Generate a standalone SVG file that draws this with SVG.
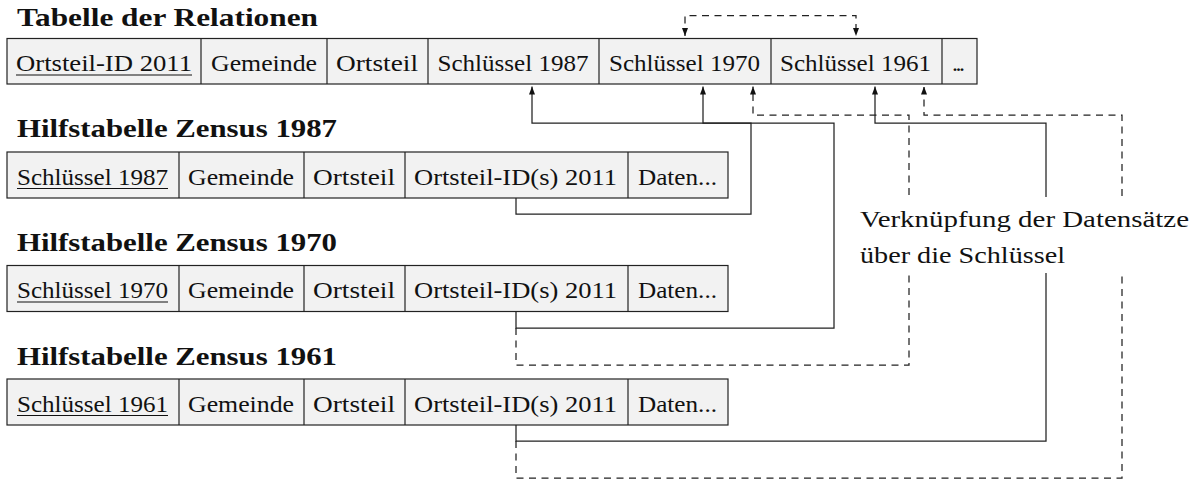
<svg xmlns="http://www.w3.org/2000/svg" width="1195" height="480" viewBox="0 0 1195 480">
<style>
.cell{fill:#f2f2f2;stroke:#222;stroke-width:1.2}
.div{stroke:#222;stroke-width:1.2}
.t{font-family:'Liberation Serif',serif;font-size:24px;fill:#111}
.h{font-family:'Liberation Serif',serif;font-size:26px;font-weight:bold;fill:#111}
.ul{stroke:#111;stroke-width:1.1}
.c{fill:none;stroke:#222;stroke-width:1.25}
.d{fill:none;stroke:#222;stroke-width:1.25;stroke-dasharray:7 5.5}
</style>
<defs>
<marker id="ah" viewBox="0 0 8 6" refX="8" refY="3" markerWidth="8" markerHeight="6" markerUnits="userSpaceOnUse" orient="auto-start-reverse">
<path d="M0,0 L8,3 L0,6 z" fill="#111"/>
</marker>
</defs>
<rect width="1195" height="480" fill="#fff"/>

<g id="relationen">
<text class="h" x="17" y="26" textLength="301" lengthAdjust="spacingAndGlyphs">Tabelle der Relationen</text>
<rect class="cell" x="7" y="38.5" width="970" height="45.5"/>
<line class="div" x1="201" y1="38.5" x2="201" y2="84"/>
<line class="div" x1="327" y1="38.5" x2="327" y2="84"/>
<line class="div" x1="428" y1="38.5" x2="428" y2="84"/>
<line class="div" x1="599" y1="38.5" x2="599" y2="84"/>
<line class="div" x1="771" y1="38.5" x2="771" y2="84"/>
<line class="div" x1="942" y1="38.5" x2="942" y2="84"/>
<text class="t" x="16" y="71" textLength="176" lengthAdjust="spacingAndGlyphs">Ortsteil-ID 2011</text>
<line class="ul" x1="16" y1="75" x2="192" y2="75"/>
<text class="t" x="211" y="71" textLength="106" lengthAdjust="spacingAndGlyphs">Gemeinde</text>
<text class="t" x="336" y="71" textLength="82" lengthAdjust="spacingAndGlyphs">Ortsteil</text>
<text class="t" x="437.5" y="71" textLength="151" lengthAdjust="spacingAndGlyphs">Schlüssel 1987</text>
<text class="t" x="609" y="71" textLength="151" lengthAdjust="spacingAndGlyphs">Schlüssel 1970</text>
<text class="t" x="780" y="71" textLength="151" lengthAdjust="spacingAndGlyphs">Schlüssel 1961</text>
<text class="t" x="952" y="71" textLength="13" lengthAdjust="spacing">...</text>
</g>

<g id="zensus1987">
<text class="h" x="17" y="137" textLength="320" lengthAdjust="spacingAndGlyphs">Hilfstabelle Zensus 1987</text>
<rect class="cell" x="7" y="152" width="721" height="46"/>
<line class="div" x1="179" y1="152" x2="179" y2="198"/>
<line class="div" x1="304" y1="152" x2="304" y2="198"/>
<line class="div" x1="405" y1="152" x2="405" y2="198"/>
<line class="div" x1="628" y1="152" x2="628" y2="198"/>
<text class="t" x="17" y="184.5" textLength="151" lengthAdjust="spacingAndGlyphs">Schlüssel 1987</text>
<line class="ul" x1="17" y1="188.5" x2="168" y2="188.5"/>
<text class="t" x="188" y="184.5" textLength="106" lengthAdjust="spacingAndGlyphs">Gemeinde</text>
<text class="t" x="313" y="184.5" textLength="82" lengthAdjust="spacingAndGlyphs">Ortsteil</text>
<text class="t" x="414" y="184.5" textLength="203" lengthAdjust="spacingAndGlyphs">Ortsteil-ID(s) 2011</text>
<text class="t" x="638" y="184.5" textLength="79" lengthAdjust="spacingAndGlyphs">Daten...</text>
</g>

<g id="zensus1970">
<text class="h" x="17" y="250.5" textLength="320" lengthAdjust="spacingAndGlyphs">Hilfstabelle Zensus 1970</text>
<rect class="cell" x="7" y="265.5" width="721" height="46"/>
<line class="div" x1="179" y1="265.5" x2="179" y2="311.5"/>
<line class="div" x1="304" y1="265.5" x2="304" y2="311.5"/>
<line class="div" x1="405" y1="265.5" x2="405" y2="311.5"/>
<line class="div" x1="628" y1="265.5" x2="628" y2="311.5"/>
<text class="t" x="17" y="298" textLength="151" lengthAdjust="spacingAndGlyphs">Schlüssel 1970</text>
<line class="ul" x1="17" y1="302" x2="168" y2="302"/>
<text class="t" x="188" y="298" textLength="106" lengthAdjust="spacingAndGlyphs">Gemeinde</text>
<text class="t" x="313" y="298" textLength="82" lengthAdjust="spacingAndGlyphs">Ortsteil</text>
<text class="t" x="414" y="298" textLength="203" lengthAdjust="spacingAndGlyphs">Ortsteil-ID(s) 2011</text>
<text class="t" x="638" y="298" textLength="79" lengthAdjust="spacingAndGlyphs">Daten...</text>
</g>

<g id="zensus1961">
<text class="h" x="17" y="364.5" textLength="320" lengthAdjust="spacingAndGlyphs">Hilfstabelle Zensus 1961</text>
<rect class="cell" x="7" y="379" width="721" height="46"/>
<line class="div" x1="179" y1="379" x2="179" y2="425"/>
<line class="div" x1="304" y1="379" x2="304" y2="425"/>
<line class="div" x1="405" y1="379" x2="405" y2="425"/>
<line class="div" x1="628" y1="379" x2="628" y2="425"/>
<text class="t" x="17" y="411.5" textLength="151" lengthAdjust="spacingAndGlyphs">Schlüssel 1961</text>
<line class="ul" x1="17" y1="415.5" x2="168" y2="415.5"/>
<text class="t" x="188" y="411.5" textLength="106" lengthAdjust="spacingAndGlyphs">Gemeinde</text>
<text class="t" x="313" y="411.5" textLength="82" lengthAdjust="spacingAndGlyphs">Ortsteil</text>
<text class="t" x="414" y="411.5" textLength="203" lengthAdjust="spacingAndGlyphs">Ortsteil-ID(s) 2011</text>
<text class="t" x="638" y="411.5" textLength="79" lengthAdjust="spacingAndGlyphs">Daten...</text>
</g>

<g id="connectors">
<path class="d" d="M685,36 V15.5 H856 V36" marker-start="url(#ah)" marker-end="url(#ah)"/>
<path class="c" d="M516,198 V214 H751 V123 H532 V86.5" marker-end="url(#ah)"/>
<path class="c" d="M516,311.5 V328 H834 V123 H703 V86.5" marker-end="url(#ah)"/>
<path class="d" d="M516,328 V365 H909 V115 H753 V86.5" marker-end="url(#ah)"/>
<path class="c" d="M516,425 V441 H1046 V123 H875 V86.5" marker-end="url(#ah)"/>
<path class="d" d="M516,441 V478 H1122 V115 H924 V86.5" marker-end="url(#ah)"/>
</g>

<g id="label">
<rect x="852" y="197" width="343" height="76" fill="#fff"/>
<text class="t" x="860" y="227" textLength="329" lengthAdjust="spacingAndGlyphs">Verknüpfung der Datensätze</text>
<text class="t" x="860" y="263" textLength="205" lengthAdjust="spacingAndGlyphs">über die Schlüssel</text>
</g>
</svg>
